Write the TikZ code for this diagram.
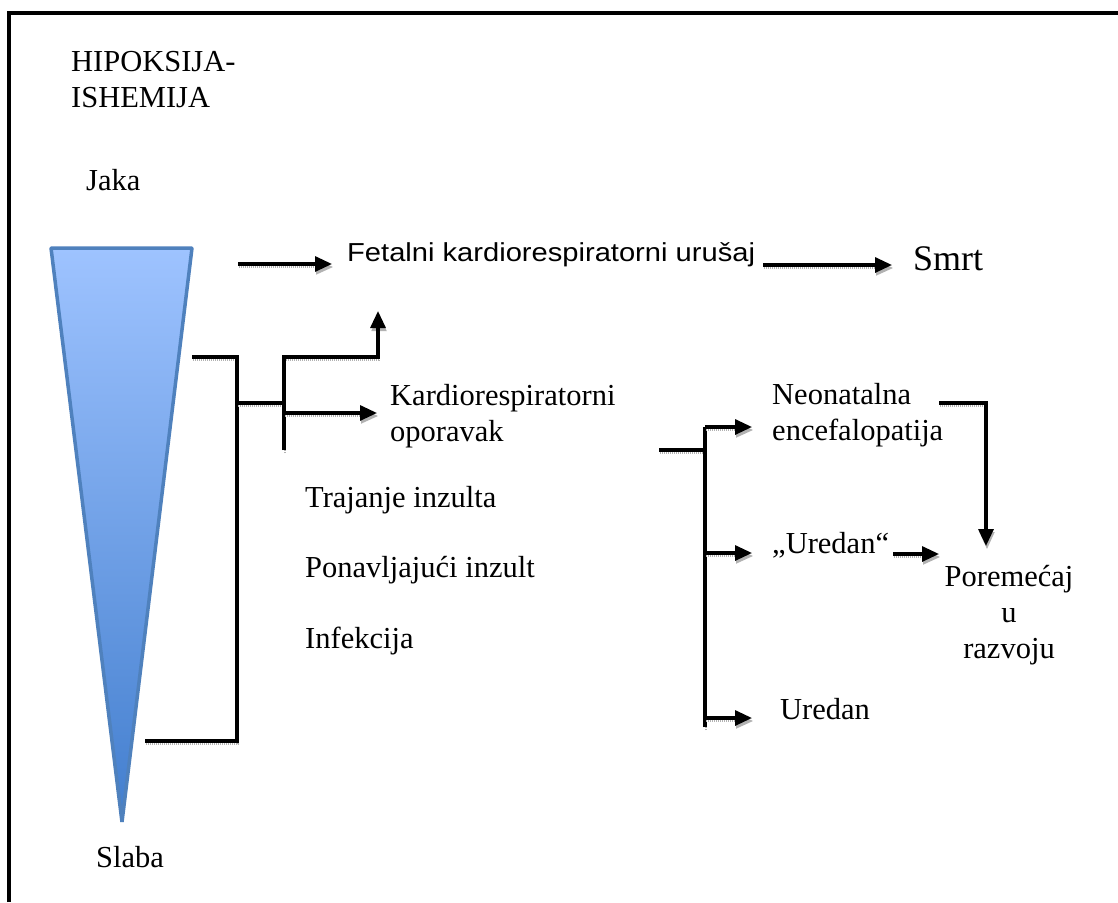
\documentclass[tikz,border=0pt]{standalone}
\usepackage{fontspec}
\setmainfont{Liberation Serif}
\newfontfamily\fetalfont[FakeStretch=1.12]{Liberation Sans}
\usetikzlibrary{arrows.meta}
\definecolor{triborder}{RGB}{79,129,189}
\definecolor{tritop}{RGB}{158,195,255}
\definecolor{tribot}{RGB}{66,126,206}
\begin{document}
\begin{tikzpicture}[x=1pt,y=-1pt,
  lbl/.style={inner sep=0pt, anchor=base west, font=\fontsize{30.5}{36}\selectfont, align=left},
  conn/.style={line width=3.2pt, black, line cap=butt,
    preaction={draw=black!30, line width=1.8pt, dash pattern=on 1pt off 1pt,
      transform canvas={xshift=1pt,yshift=-3pt}}},
  arr/.style={conn, -{Triangle[length=17pt,width=15pt]}}
]
\useasboundingbox (0,0) rectangle (1118,902);
\fill[white] (0,0) rectangle (1118,902);
% frame
\draw[line width=3.2pt] (9,902) -- (9,13) -- (1118,13);
% triangle
\shadedraw[top color=tritop, bottom color=tribot, draw=triborder, line width=3.5pt, line join=bevel]
  (51,248) -- (192,248) -- (122,822) -- cycle;
% texts (multi-line nodes: base = baseline of last line)
\node[lbl] (hip) at (71,107) {HIPOKSIJA-\\ISHEMIJA};
\node[lbl] (jaka) at (86,190) {Jaka};
\node[lbl, font=\fetalfont\fontsize{26}{28}\selectfont] (fetal) at (347,261) {Fetalni kardiorespiratorni urušaj};
\node[lbl, font=\fontsize{36}{40}\selectfont] (smrt) at (913,270) {Smrt};
\node[lbl] (kard) at (390,441) {Kardiorespiratorni\\oporavak};
\node[lbl] (traj) at (305,507) {Trajanje inzulta};
\node[lbl] (pon) at (305,577) {Ponavljajući inzult};
\node[lbl] (inf) at (305,648) {Infekcija};
\node[lbl] (neo) at (772,440) {Neonatalna\\encefalopatija};
\node[lbl] (ur1) at (772,553) {„Uredan“};
\node[lbl, align=center, anchor=base] (por) at (1009,658) {Poremećaj\\u\\razvoju};
\node[lbl] (ur2) at (780,719) {Uredan};
\node[lbl] (slaba) at (96,867) {Slaba};
% coordinates
\coordinate (a1s) at (238,264); \coordinate (a1e) at (332,264);
\coordinate (a2s) at (763,265); \coordinate (a2e) at (892,265);
\coordinate (ob1) at (192,357); \coordinate (ob2) at (237,357);
\coordinate (ob3) at (237,741); \coordinate (ob4) at (145,741);
\coordinate (om1) at (237,403); \coordinate (om2) at (284,403);
\coordinate (iv1) at (284,450); \coordinate (iv2) at (284,357);
\coordinate (iv3) at (378,357); \coordinate (iv4) at (378,311);
\coordinate (ka1) at (284,413); \coordinate (ka2) at (377,413);
\coordinate (rb1) at (659,450); \coordinate (rb2) at (705,450);
\coordinate (rv1) at (705,727); \coordinate (rv2) at (705,427);
\coordinate (rn) at (752,427);
\coordinate (ru1a) at (705,553); \coordinate (ru1b) at (752,553);
\coordinate (ru2a) at (705,718); \coordinate (ru2b) at (752,718);
\coordinate (ne1) at (939,403); \coordinate (ne2) at (986,403); \coordinate (ne3) at (986,546);
\coordinate (up1) at (893,554); \coordinate (up2) at (939,554);
% connectors
\draw[arr] (a1s) -- (a1e);
\draw[arr] (a2s) -- (a2e);
\draw[conn] (ob1) -- (ob2) -- (ob3) -- (ob4);
\draw[conn] (om1) -- (om2);
\draw[arr] (iv1) -- (iv2) -- (iv3) -- (iv4);
\draw[arr] (ka1) -- (ka2);
\draw[conn] (rb1) -- (rb2);
\draw[conn] (rv1) -- (rv2);
\draw[arr] (rv2) -- (rn);
\draw[arr] (ru1a) -- (ru1b);
\draw[arr] (ru2a) -- (ru2b);
\draw[arr] (ne1) -- (ne2) -- (ne3);
\draw[arr] (up1) -- (up2);
\end{tikzpicture}
\end{document}
